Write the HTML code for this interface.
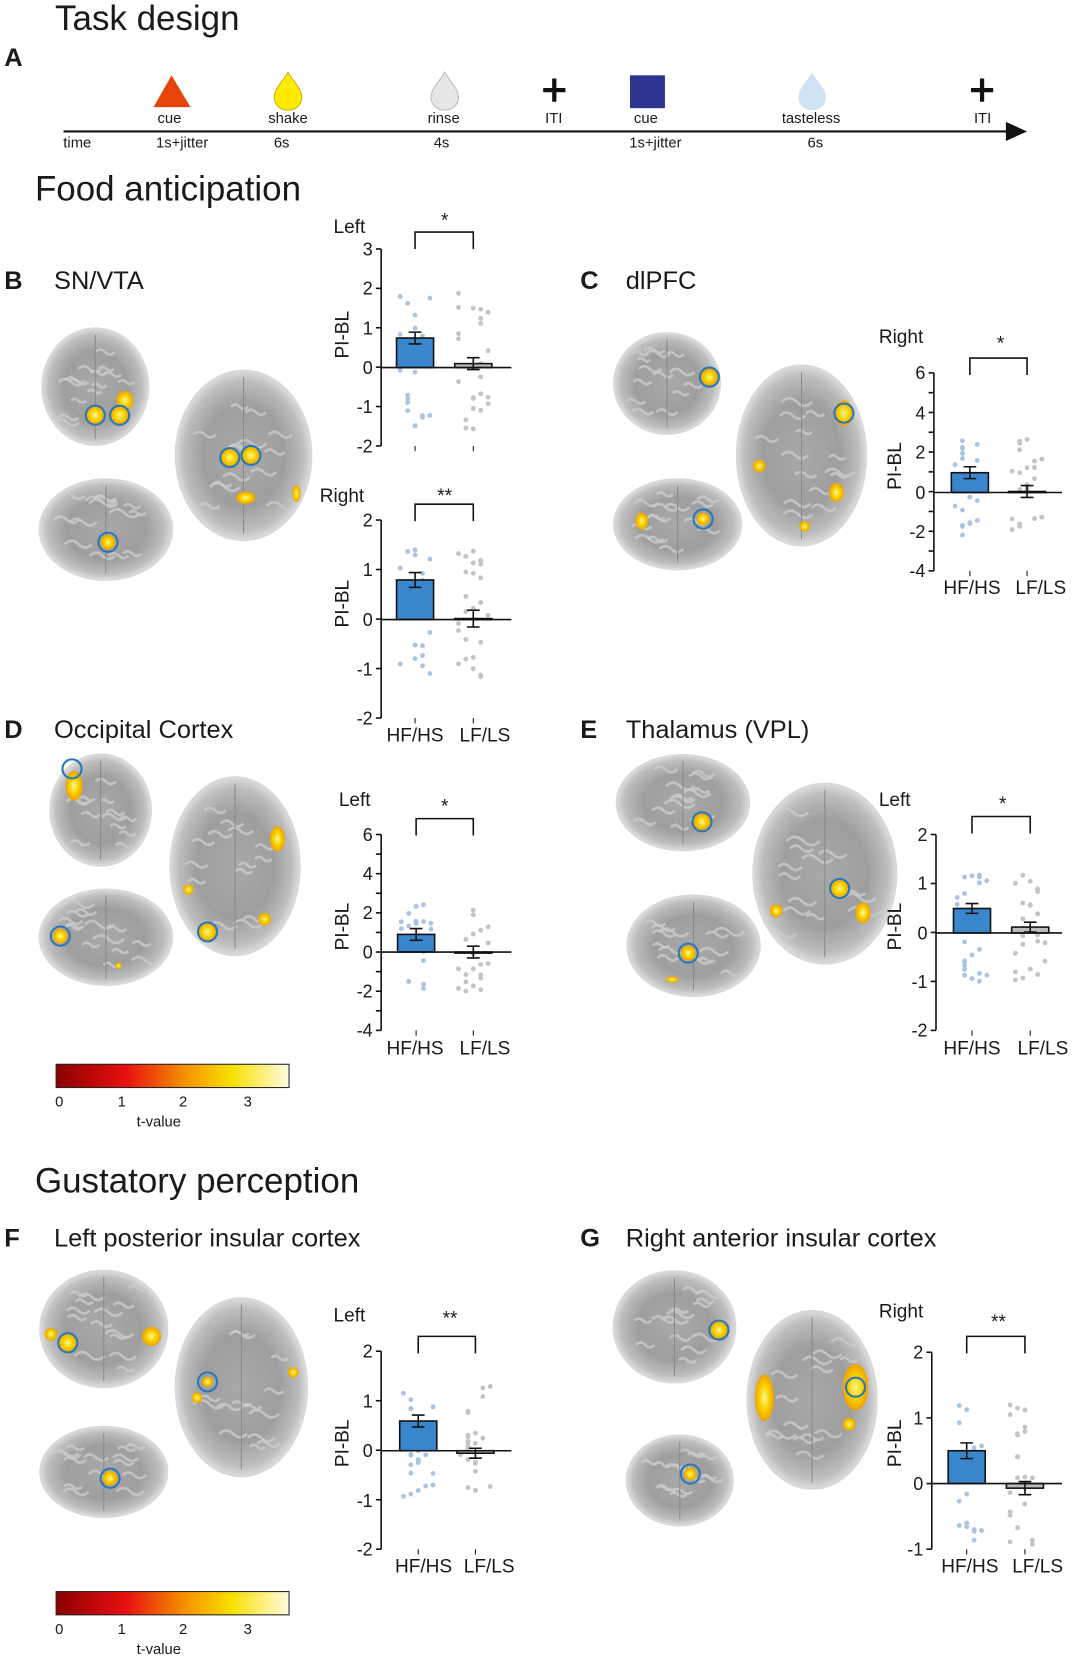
<!DOCTYPE html>
<html><head><meta charset="utf-8"><style>
html,body{margin:0;padding:0;background:#fff;width:1080px;height:1669px;overflow:hidden}
svg{display:block}
text{font-family:"Liberation Sans",Arial,sans-serif;fill:#1a1a1a}
.t{font-size:33px}
.h{font-size:24px}
.L{font-size:24px;font-weight:bold}
.s{font-size:14px;fill:#333}
.ax{font-size:18px}
.tk{font-size:17px;text-anchor:end}
</style></head><body>
<svg id="S" width="1080" height="1669" viewBox="0 0 1020 1576" xmlns="http://www.w3.org/2000/svg">
<defs>
<radialGradient id="br" cx="50%" cy="50%" r="50%">
<stop offset="0" stop-color="#a9a9a9"/><stop offset="0.6" stop-color="#9e9e9e"/><stop offset="0.88" stop-color="#bdbdbd"/><stop offset="1" stop-color="#dcdcdc"/></radialGradient>
<radialGradient id="yb" cx="50%" cy="50%" r="50%">
<stop offset="0" stop-color="#fff59a"/><stop offset="0.5" stop-color="#f7d400"/><stop offset="1" stop-color="#f0a000"/></radialGradient>
<linearGradient id="cb" x1="0" x2="1">
<stop offset="0" stop-color="#8b0000"/><stop offset="0.3" stop-color="#e81010"/><stop offset="0.55" stop-color="#f59000"/><stop offset="0.75" stop-color="#f7e000"/><stop offset="1" stop-color="#fffbe0"/></linearGradient>
</defs>

<text class="t" x="52" y="28">Task design</text>
<text class="L" x="4" y="62">A</text>
<line x1="60" y1="124" x2="955" y2="124" stroke="#111" stroke-width="2"/>
<polygon points="950,115 970,124 950,133" fill="#111"/>
<polygon points="162,71 180,101 145,101" fill="#e5450a"/>
<path d="M272,68 C276,76 285,83 285,92 A13,12 0 0 1 259,92 C259,83 268,76 272,68Z" fill="#ffea00" stroke="#c8b400"/>
<path d="M420,68 C424,76 433,83 433,92 A13,12 0 0 1 407,92 C407,83 416,76 420,68Z" fill="#e6e6e6" stroke="#bbb"/>
<path d="M767,68 C771,76 780,83 780,92 A13,12 0 0 1 754,92 C754,83 763,76 767,68Z" fill="#cfe3f4"/>
<rect x="595" y="71" width="33" height="31" fill="#2d3590"/>
<path d="M513,85h21M523.5,74v22" stroke="#111" stroke-width="4"/>
<path d="M917,85h21M927.5,74v22" stroke="#111" stroke-width="4"/>
<g class="s" text-anchor="middle">
<text x="160" y="116">cue</text><text x="272" y="116">shake</text><text x="419" y="116">rinse</text><text x="523" y="116">ITI</text><text x="610" y="116">cue</text><text x="766" y="116">tasteless</text><text x="928" y="116">ITI</text>
<text x="73" y="139">time</text><text x="172" y="139">1s+jitter</text><text x="266" y="139">6s</text><text x="417" y="139">4s</text><text x="619" y="139">1s+jitter</text><text x="770" y="139">6s</text>
</g>
<text class="t" x="33" y="189">Food anticipation</text>

<text class="L" x="4" y="273">B</text><text class="h" x="51" y="273">SN/VTA</text>
<text class="L" x="548" y="273">C</text><text class="h" x="591" y="273">dlPFC</text>
<text class="L" x="4" y="697">D</text><text class="h" x="51" y="697">Occipital Cortex</text>
<text class="L" x="548" y="697">E</text><text class="h" x="591" y="697">Thalamus (VPL)</text>
<text class="t" x="33" y="1126">Gustatory perception</text>
<text class="L" x="4" y="1177">F</text><text class="h" x="51" y="1177">Left posterior insular cortex</text>
<text class="L" x="548" y="1177">G</text><text class="h" x="591" y="1177">Right anterior insular cortex</text>

<g id="brains"></g>
<g id="charts"></g>

<rect x="53" y="1005" width="220" height="22" fill="url(#cb)" stroke="#222"/>
<g class="s" text-anchor="middle"><text x="56" y="1045">0</text><text x="115" y="1045">1</text><text x="173" y="1045">2</text><text x="234" y="1045">3</text><text x="150" y="1064">t-value</text></g>
<rect x="53" y="1503" width="220" height="22" fill="url(#cb)" stroke="#222"/>
<g class="s" text-anchor="middle"><text x="56" y="1543">0</text><text x="115" y="1543">1</text><text x="173" y="1543">2</text><text x="234" y="1543">3</text><text x="150" y="1562">t-value</text></g>

<g class="ax">
<text x="315" y="220">Left</text><text x="302" y="474">Right</text><text x="830" y="324">Right</text>
<text x="320" y="761">Left</text><text x="830" y="761">Left</text><text x="315" y="1248">Left</text><text x="830" y="1244">Right</text>
</g>
<g class="ax" text-anchor="middle">
<text x="420" y="214">*</text><text x="420" y="474">**</text><text x="945" y="330">*</text><text x="420" y="767">*</text><text x="947" y="765">*</text><text x="425" y="1251">**</text><text x="943" y="1254">**</text>
<text x="392" y="700">HF/HS</text><text x="458" y="700">LF/LS</text>
<text x="918" y="561">HF/HS</text><text x="983" y="561">LF/LS</text>
<text x="392" y="996">HF/HS</text><text x="458" y="996">LF/LS</text>
<text x="918" y="996">HF/HS</text><text x="985" y="996">LF/LS</text>
<text x="400" y="1485">HF/HS</text><text x="462" y="1485">LF/LS</text>
<text x="916" y="1485">HF/HS</text><text x="980" y="1485">LF/LS</text>
</g>
<g class="ax" text-anchor="middle">
<text transform="translate(329,316) rotate(-90)">PI-BL</text>
<text transform="translate(329,570) rotate(-90)">PI-BL</text>
<text transform="translate(851,440) rotate(-90)">PI-BL</text>
<text transform="translate(329,875) rotate(-90)">PI-BL</text>
<text transform="translate(851,875) rotate(-90)">PI-BL</text>
<text transform="translate(329,1363) rotate(-90)">PI-BL</text>
<text transform="translate(851,1363) rotate(-90)">PI-BL</text>
</g>
<g class="tk">
<text x="352" y="241">3</text><text x="352" y="278">2</text><text x="352" y="316">1</text><text x="352" y="353">0</text><text x="352" y="390">-1</text><text x="352" y="427">-2</text>
<text x="352" y="497">2</text><text x="352" y="544">1</text><text x="352" y="591">0</text><text x="352" y="638">-1</text><text x="352" y="684">-2</text>
<text x="874" y="358">6</text><text x="874" y="396">4</text><text x="874" y="433">2</text><text x="874" y="471">0</text><text x="874" y="508">-2</text><text x="874" y="545">-4</text>
<text x="352" y="794">6</text><text x="352" y="831">4</text><text x="352" y="868">2</text><text x="352" y="905">0</text><text x="352" y="942">-2</text><text x="352" y="979">-4</text>
<text x="876" y="794">2</text><text x="876" y="840">1</text><text x="876" y="887">0</text><text x="876" y="933">-1</text><text x="876" y="979">-2</text>
<text x="352" y="1282">2</text><text x="352" y="1329">1</text><text x="352" y="1376">0</text><text x="352" y="1423">-1</text><text x="352" y="1469">-2</text>
<text x="872" y="1283">2</text><text x="872" y="1345">1</text><text x="872" y="1407">0</text><text x="872" y="1469">-1</text>
</g>
</svg>
<script>
var NS="http://www.w3.org/2000/svg";
function el(p,t,a){var e=document.createElementNS(NS,t);for(var k in a)e.setAttribute(k,a[k]);p.appendChild(e);return e;}
var seed=7;function rnd(){seed=(seed*9301+49297)%233280;return seed/233280;}
var B=document.getElementById('brains');var bid=0;
function brain(cx,cy,w,h,blobs,circ){
 bid++;var defs=document.querySelector('defs');
 var cp=el(defs,'clipPath',{id:'cp'+bid});el(cp,'ellipse',{cx:cx,cy:cy,rx:w/2-3,ry:h/2-3});
 el(B,'ellipse',{cx:cx,cy:cy,rx:w/2,ry:h/2,fill:'url(#br)',stroke:'#d8d8d8','stroke-width':2});
 var g=el(B,'g',{'clip-path':'url(#cp'+bid+')'});
 for(var i=0;i<14;i++){var x=cx+(rnd()-.5)*w*.6,y=cy+(rnd()-.5)*h*.7,l=w*.06+rnd()*w*.06;
  el(g,'path',{d:'M'+(x-l)+','+y+' q'+(l/2)+','+(-l*.5)+' '+l+',0 t'+l+',0',fill:'none',stroke:'#cacaca','stroke-width':2.5,opacity:0.8});}
 el(B,'line',{x1:cx,y1:cy-h/2+6,x2:cx,y2:cy+h/2-6,stroke:'#8a8a8a','stroke-width':1});
 blobs.forEach(function(b){el(B,'ellipse',{cx:b[0],cy:b[1],rx:b[2],ry:b[3]||b[2],fill:'url(#yb)'});});
 circ.forEach(function(c){el(B,'circle',{cx:c[0],cy:c[1],r:c[2]||9,fill:'none',stroke:'#2a78b8','stroke-width':2});});
}
brain(90,365,100,110,[[90,392,9],[113,392,9],[118,378,8,9]],[[90,392],[113,392]]);
brain(230,430,128,160,[[217,432,9],[237,430,9],[232,470,9,6],[280,466,4,8]],[[217,432],[237,430]]);
brain(100,500,125,95,[[102,512,7]],[[102,512]]);
brain(630,362,100,95,[[670,356,8]],[[670,356]]);
brain(757,430,122,170,[[797,390,9,12],[717,440,6],[790,465,7,9],[760,497,5]],[[797,390]]);
brain(640,495,120,85,[[664,490,6],[606,492,6,8]],[[664,490]]);
brain(95,765,95,105,[[70,742,8,14]],[[68,726]]);
brain(222,818,122,168,[[196,880,9],[262,792,7,12],[178,840,5],[250,868,6]],[[196,880]]);
brain(100,885,125,90,[[57,884,7],[112,912,3]],[[57,884]]);
brain(645,758,125,90,[[663,776,8]],[[663,776]]);
brain(779,825,135,170,[[793,839,9],[815,862,7,10],[733,860,6]],[[793,839]]);
brain(655,893,125,95,[[650,900,7],[635,925,6,3]],[[650,900]]);
brain(98,1255,120,110,[[64,1268,9],[48,1260,6],[143,1262,9]],[[64,1268]]);
brain(228,1310,124,168,[[196,1305,5],[186,1320,5],[277,1296,5]],[[196,1305]]);
brain(98,1390,120,85,[[104,1396,7]],[[104,1396]]);
brain(637,1253,115,105,[[679,1256,9]],[[679,1256]]);
brain(767,1322,122,168,[[808,1310,12,22],[722,1320,9,22],[802,1345,6]],[[808,1310]]);
brain(642,1398,100,85,[[652,1392,6]],[[652,1392]]);

var C=document.getElementById('charts');
function chart(ax,top,bot,zero,unit,right,b1,e1,b2,e2,br,bx1,bx2,blue,gray,sp){
 el(C,'line',{x1:ax,y1:top,x2:ax,y2:bot,stroke:'#111','stroke-width':1.5});
 for(var y=top;y<=bot+0.5;y+=unit)el(C,'line',{x1:ax-5,y1:y,x2:ax,y2:y,stroke:'#111','stroke-width':1.5});
 var c1=bx1,c2=bx2,w=35;
 [[c1,blue,'#a9c4e4'],[c2,gray,'#c4c4c4']].forEach(function(g){for(var i=0;i<g[1];i++){var val=(rnd()-.45)*sp;el(C,'circle',{cx:g[0]+Math.round((rnd()-.5)*4)*7,cy:zero-val*unit,r:2.3,fill:g[2]});}});
 var y1=zero-b1*unit;el(C,'rect',{x:c1-w/2,y:Math.min(y1,zero),width:w,height:Math.abs(zero-y1),fill:'#3a86cc',stroke:'#111','stroke-width':1.5});
 var y2=zero-b2*unit;el(C,'rect',{x:c2-w/2,y:Math.min(y2,zero),width:w,height:Math.max(1,Math.abs(zero-y2)),fill:'#bdbdbd',stroke:'#111','stroke-width':1.5});
 [[c1,y1,e1],[c2,y2,e2]].forEach(function(e){var d=e[2]*unit;el(C,'path',{d:'M'+e[0]+','+(e[1]-d)+'V'+(e[1]+d)+'M'+(e[0]-6)+','+(e[1]-d)+'h12M'+(e[0]-6)+','+(e[1]+d)+'h12',stroke:'#111','stroke-width':1.5,fill:'none'});});
 el(C,'line',{x1:ax,y1:zero,x2:right,y2:zero,stroke:'#111','stroke-width':1.5});
 el(C,'path',{d:'M'+c1+','+(br+16)+'V'+br+'H'+c2+'V'+(br+16),stroke:'#111','stroke-width':1.5,fill:'none'});
 el(C,'line',{x1:c1,y1:bot,x2:c1,y2:bot+5,stroke:'#111'});el(C,'line',{x1:c2,y1:bot,x2:c2,y2:bot+5,stroke:'#111'});
}
chart(360,235,421,347,37.2,483,0.75,0.15,0.1,0.15,219,392,447,22,25,3.5);
chart(360,491,678,585,46.75,483,0.8,0.15,0.02,0.17,476,392,447,20,25,2.6);
chart(882,352,539,465,18.7,1003,1.0,0.3,0.05,0.3,338,916,970,22,22,5);
chart(360,788,973,899,18.5,483,0.9,0.3,0.0,0.3,773,393,447,22,20,4.5);
chart(884,788,973,881,46.25,1003,0.5,0.1,0.12,0.1,771,918,973,24,24,2.2);
chart(360,1276,1463,1370,46.75,483,0.6,0.12,-0.05,0.1,1262,395,449,24,24,2.4);
chart(880,1277,1463,1401,62,1003,0.5,0.12,-0.07,0.1,1262,913,968,22,24,2.2);
</script>
</body></html>
